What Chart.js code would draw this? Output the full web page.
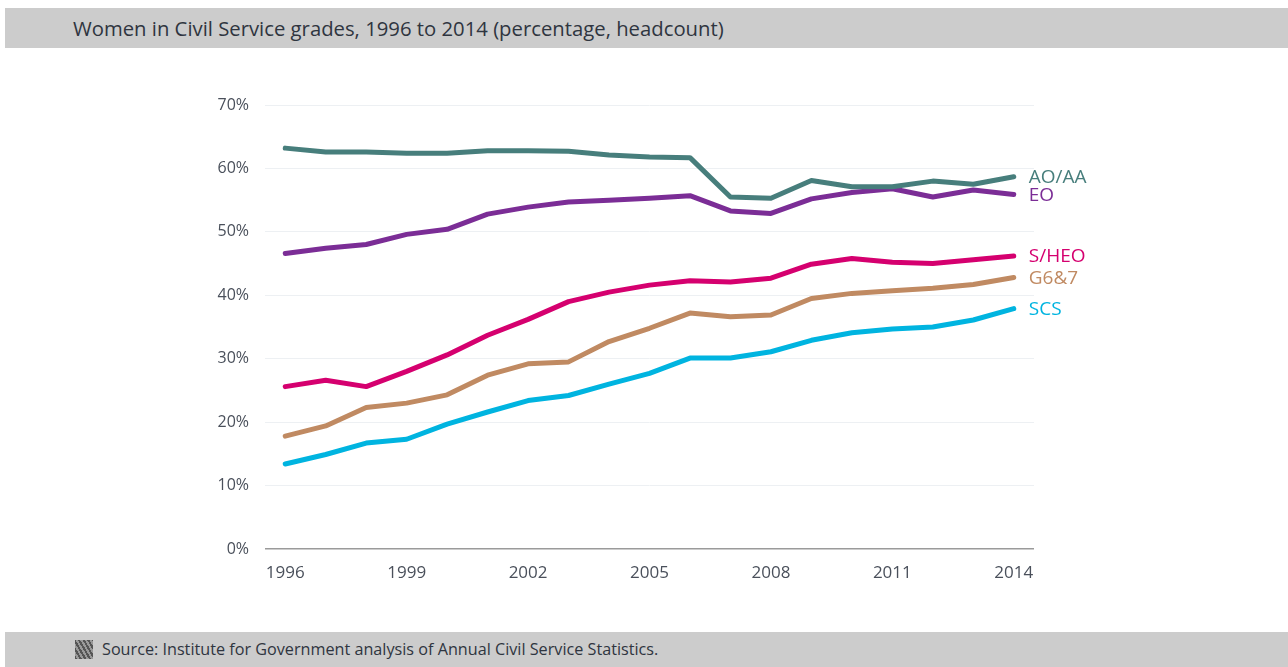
<!DOCTYPE html>
<html>
<head>
<meta charset="utf-8">
<script src="https://cdn.jsdelivr.net/npm/chart.js@4"></script>
<style>
  html, body { margin: 0; padding: 0; background: #fff; }
  body { width: 1288px; height: 667px; position: relative; overflow: hidden; font-family: "Open Sans", sans-serif; }
  #header {
    position: absolute; left: 5px; top: 8px; width: 1283px; height: 40px;
    background: #cccccc; color: #2f3540; font-size: 20.3px; line-height: 40px;
    box-sizing: border-box; padding-left: 68px; font-weight: 500;
  }
  #footer {
    position: absolute; left: 5px; top: 632px; width: 1283px; height: 35px;
    background: #cccccc; color: #2f3540; font-size: 16.2px; line-height: 35px;
    box-sizing: border-box; padding-left: 97px;
  }
  #footer .icon {
    position: absolute; left: 70px; top: 8px; width: 18px; height: 19px;
    background: repeating-linear-gradient(60deg, #555 0 2px, #999 2px 4px);
  }
  #wrap { position: absolute; left: 0; top: 0; width: 1288px; height: 667px; }
</style>
</head>
<body>
<div id="header">Women in Civil Service grades, 1996 to 2014 (percentage, headcount)</div>
<div id="wrap"><canvas id="chart"></canvas></div>
<div id="footer"><span class="icon"></span>Source: Institute for Government analysis of Annual Civil Service Statistics.</div>
<script>
// years on the x axis
const years = ['1996','1997','1998','1999','2000','2001','2002','2003','2004','2005',
               '2006','2007','2008','2009','2010','2011','2012','2013','2014'];

// % women by grade
const aoAa = [63.2, 62.6, 62.6, 62.4, 62.4, 62.8, 62.8, 62.7, 62.1, 61.8, 61.7, 55.5, 55.3, 58.1, 57.1, 57.1, 58.0, 57.5, 58.7];
const eo   = [46.6, 47.4, 48.0, 49.6, 50.4, 52.8, 53.9, 54.7, 55.0, 55.3, 55.7, 53.3, 52.9, 55.2, 56.2, 56.8, 55.5, 56.6, 55.9];
const sHeo = [25.6, 26.6, 25.6, 28.0, 30.6, 33.7, 36.2, 39.0, 40.5, 41.6, 42.3, 42.1, 42.7, 44.9, 45.8, 45.2, 45.0, 45.6, 46.2];
const g67  = [17.8, 19.4, 22.3, 23.0, 24.3, 27.4, 29.2, 29.5, 32.7, 34.8, 37.2, 36.6, 36.9, 39.5, 40.3, 40.7, 41.1, 41.7, 42.8];
const scs  = [13.4, 14.9, 16.7, 17.3, 19.7, 21.6, 23.4, 24.2, 26.0, 27.7, 30.1, 30.1, 31.1, 32.9, 34.1, 34.7, 35.0, 36.1, 37.9];

const yTicks = [0, 10, 20, 30, 40, 50, 60, 70];

const seriesNames = ['AO/AA', 'EO', 'S/HEO', 'G6&7', 'SCS'];
const seriesColors = ['#477e7c', '#7b2d96', '#d5006f', '#c08a62', '#00b4e0'];
const seriesData = [aoAa, eo, sHeo, g67, scs];

// draws the grade name at the end of each line
const endLabels = {
    id: 'endLabels',
    afterDatasetsDraw(chart) {
        const ctx = chart.ctx;
        ctx.save();
        ctx.font = '19px "Open Sans", sans-serif';
        ctx.textBaseline = 'middle';
        ctx.textAlign = 'left';
        chart.data.datasets.forEach((ds, i) => {
            const pts = chart.getDatasetMeta(i).data;
            const last = pts[pts.length - 1];
            ctx.fillStyle = ds.borderColor;
            ctx.fillText(ds.label, last.x + 15, last.y + 1);
        });
        ctx.restore();
    }
};

const ctx = document.getElementById('chart').getContext('2d');
const chart = new Chart(ctx, {
    type: 'line',
    data: {
        labels: years,
        datasets: seriesData.map((d, i) => ({
            label: seriesNames[i],
            data: d,
            borderColor: seriesColors[i],
            backgroundColor: seriesColors[i],
            borderWidth: 5,
            pointRadius: 0,
            tension: 0,
            borderJoinStyle: 'round',
            borderCapStyle: 'round',
            fill: false
        }))
    },
    options: {
        responsive: true,
        maintainAspectRatio: false,
        animation: false,
        layout: { padding: { left: 205, right: 254, top: 105, bottom: 78 } },
        plugins: { legend: { display: false }, tooltip: { enabled: false } },
        scales: {
            x: {
                offset: true,
                grid: { display: false, drawTicks: false },
                border: { display: false },
                afterFit: s => { s.height = 40; },
                ticks: {
                    autoSkip: false,
                    maxRotation: 0,
                    padding: 14,
                    color: '#4a505b',
                    font: { family: '"Open Sans", sans-serif', size: 17 },
                    callback: (v, i) => (i % 3 === 0 ? years[i] : '')
                }
            },
            y: {
                min: yTicks[0],
                max: yTicks[yTicks.length - 1],
                afterFit: s => { s.width = 60; },
                afterBuildTicks: s => { s.ticks = yTicks.map(v => ({ value: v })); },
                border: { display: false },
                grid: {
                    drawTicks: false,
                    color: c => (c.tick && c.tick.value === 0 ? '#9a9a9a' : '#edf0f3'),
                    lineWidth: c => (c.tick && c.tick.value === 0 ? 1.5 : 1)
                },
                ticks: {
                    padding: 16,
                    color: '#4a505b',
                    font: { family: '"Open Sans", sans-serif', size: 16 },
                    callback: v => v + '%'
                }
            }
        }
    },
    plugins: [endLabels]
});
</script>
</body>
</html>
